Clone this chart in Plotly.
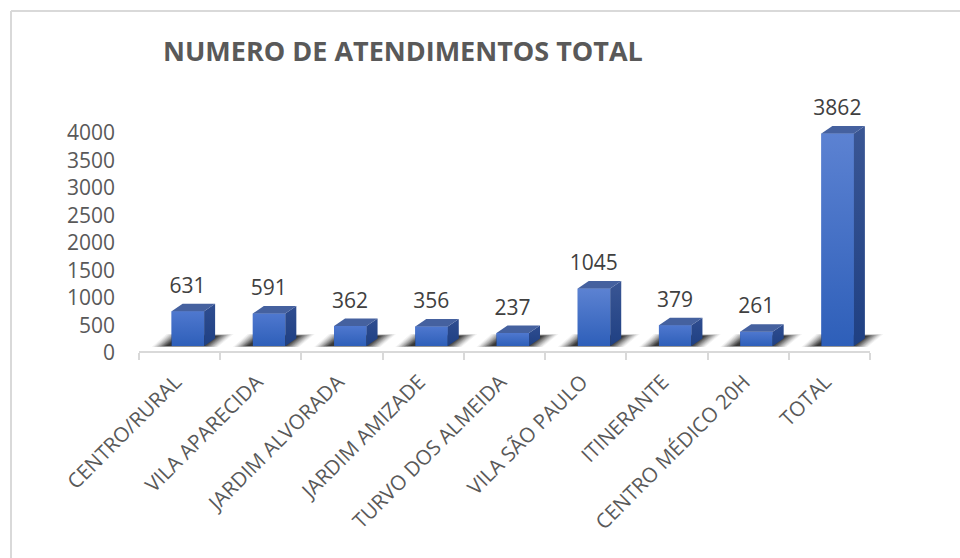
import plotly.graph_objects as go

categories = ["CENTRO/RURAL", "VILA APARECIDA", "JARDIM ALVORADA", "JARDIM AMIZADE",
              "TURVO DOS ALMEIDA", "VILA SÃO PAULO", "ITINERANTE", "CENTRO MÉDICO 20H", "TOTAL"]
values = [631, 591, 362, 356, 237, 1045, 379, 261, 3862]
y_ticks = [0, 500, 1000, 1500, 2000, 2500, 3000, 3500, 4000]
title_text = "NUMERO DE ATENDIMENTOS TOTAL"

# plot box in pixels: the axes run a little past the last tick so the 3D depth is not clipped
W, H = 960, 558
L, R, T, B = 139, 870, 132, 352
EXTRA_R, EXTRA_T = 30, 50
PX = (R - L) / len(categories)      # pixels per category
PY = (B - T) / 4000                 # pixels per value unit
dx = lambda p: p / PX
dy = lambda p: p / PY

floor = dy(6)            # the 3D floor sits above the axis line
left, right = dx(-8), dx(24.5)
depth_x, depth_y = dx(11), dy(7.5)
n = len(values)

fig = go.Figure()

# floor shadows: soft, layered parallelograms
for i in range(n):
    for grow, alpha in [(0, .05), (1.5, .07), (3, .09), (4.5, .11), (6, .13), (7.5, .16), (9, .19), (10.5, .22),
                        (12, .26), (13.5, .30)]:
        xs = [i + dx(-28 + grow * 1.1), i + dx(38 - grow), i + dx(54 - grow * 1.2), i + dx(-13 + grow),
              i + dx(-28 + grow * 1.1)]
        y0 = floor + dy(-1 + grow * .08)
        y1 = floor + dy(12 - grow * .15)
        fig.add_trace(go.Scatter(x=xs, y=[y0, y0, y1, y1, y0], mode="lines", fill="toself", line=dict(width=0),
                                 fillcolor=f"rgba(15,15,15,{alpha})", hoverinfo="skip", showlegend=False))

# front faces as real bars
fig.add_trace(go.Bar(x=list(range(n)), y=values, base=floor, width=right - left, offset=left,
                     marker=dict(color="#3f6cc4", line=dict(width=0)), showlegend=False))

for i, v in enumerate(values):
    top = floor + v
    # front gradient
    fig.add_trace(go.Scatter(
        x=[i + left, i + right, i + right, i + left, i + left], y=[floor, floor, top, top, floor],
        mode="lines", line=dict(width=0), fill="toself",
        fillgradient=dict(type="vertical", colorscale=[[0, "#2e5fb9"], [1, "#5c82d2" if v > 1000 else "#4f78cf"]]),
        hoverinfo="skip", showlegend=False))
    # side
    fig.add_trace(go.Scatter(
        x=[i + right, i + right + depth_x, i + right + depth_x, i + right, i + right],
        y=[floor, floor + depth_y, top + depth_y, top, floor],
        mode="lines", line=dict(width=0), fill="toself",
        fillgradient=dict(type="vertical", colorscale=[[0, "#1f4083"], [1, "#3a5694" if v > 1000 else "#2f4d90"]]),
        hoverinfo="skip", showlegend=False))
    # top
    fig.add_trace(go.Scatter(
        x=[i + left, i + right, i + right + depth_x, i + left + depth_x, i + left],
        y=[top, top, top + depth_y, top + depth_y, top],
        mode="lines", line=dict(width=0), fill="toself", fillcolor="#45619f",
        hoverinfo="skip", showlegend=False))

# data labels
fig.add_trace(go.Scatter(
    x=[i + dx(8) for i in range(n)], y=[v + floor + depth_y + dy(5.5) for v in values],
    mode="text", text=[str(v) for v in values], textposition="top center",
    textfont=dict(family="Open Sans", size=21, color="#404040"), hoverinfo="skip", showlegend=False))

plot_w = R + EXTRA_R - L
plot_h = B - (T - EXTRA_T)
fig.update_layout(
    width=W, height=H, autosize=False,
    margin=dict(l=L, r=W - R - EXTRA_R, t=T - EXTRA_T, b=H - B, pad=0),
    paper_bgcolor="white", plot_bgcolor="white", showlegend=False,
    title=dict(text=f"<b>{title_text}</b>", x=163 / W, xanchor="left", y=1 - 52 / H, yanchor="middle",
               font=dict(family="Open Sans", size=27, color="#595959")),
    xaxis=dict(range=[-.5, n - .5 + dx(EXTRA_R)], tickmode="array", tickvals=[i + dx(-4) for i in range(n)],
               ticktext=categories, tickangle=-45, ticks="", showgrid=False, zeroline=False, showline=False,
               tickfont=dict(family="Open Sans", size=20.5, color="#595959"), ticklabelstandoff=13,
               minor=dict(tickmode="array", tickvals=[i - .5 for i in range(n + 1)], ticks="outside", ticklen=7,
                          tickwidth=2, tickcolor="#d9d9d9", showgrid=False)),
    yaxis=dict(range=[0, 4000 + dy(EXTRA_T)], tickmode="array", tickvals=y_ticks, ticks="", showgrid=False,
               zeroline=False, showline=False, tickfont=dict(family="Open Sans", size=21, color="#595959"),
               ticklabelstandoff=23, ticklabelshift=1),
    shapes=[
        dict(type="line", xref="paper", yref="paper", x0=0, x1=(R - L) / plot_w, y0=0, y1=0,
             line=dict(color="#d9d9d9", width=2)),
        dict(type="line", xref="paper", yref="paper", x0=(11 - L) / plot_w, x1=(W - L) / plot_w,
             y0=(B - 11) / plot_h, y1=(B - 11) / plot_h, line=dict(color="#d9d9d9", width=2)),
        dict(type="line", xref="paper", yref="paper", x0=(11 - L) / plot_w, x1=(11 - L) / plot_w,
             y0=(B - 11) / plot_h, y1=(B - H) / plot_h, line=dict(color="#d9d9d9", width=2)),
    ],
)
fig.write_html("out.html", config=dict(displayModeBar=False),
               post_script="document.body.style.margin='0';document.documentElement.style.overflow='hidden';")
